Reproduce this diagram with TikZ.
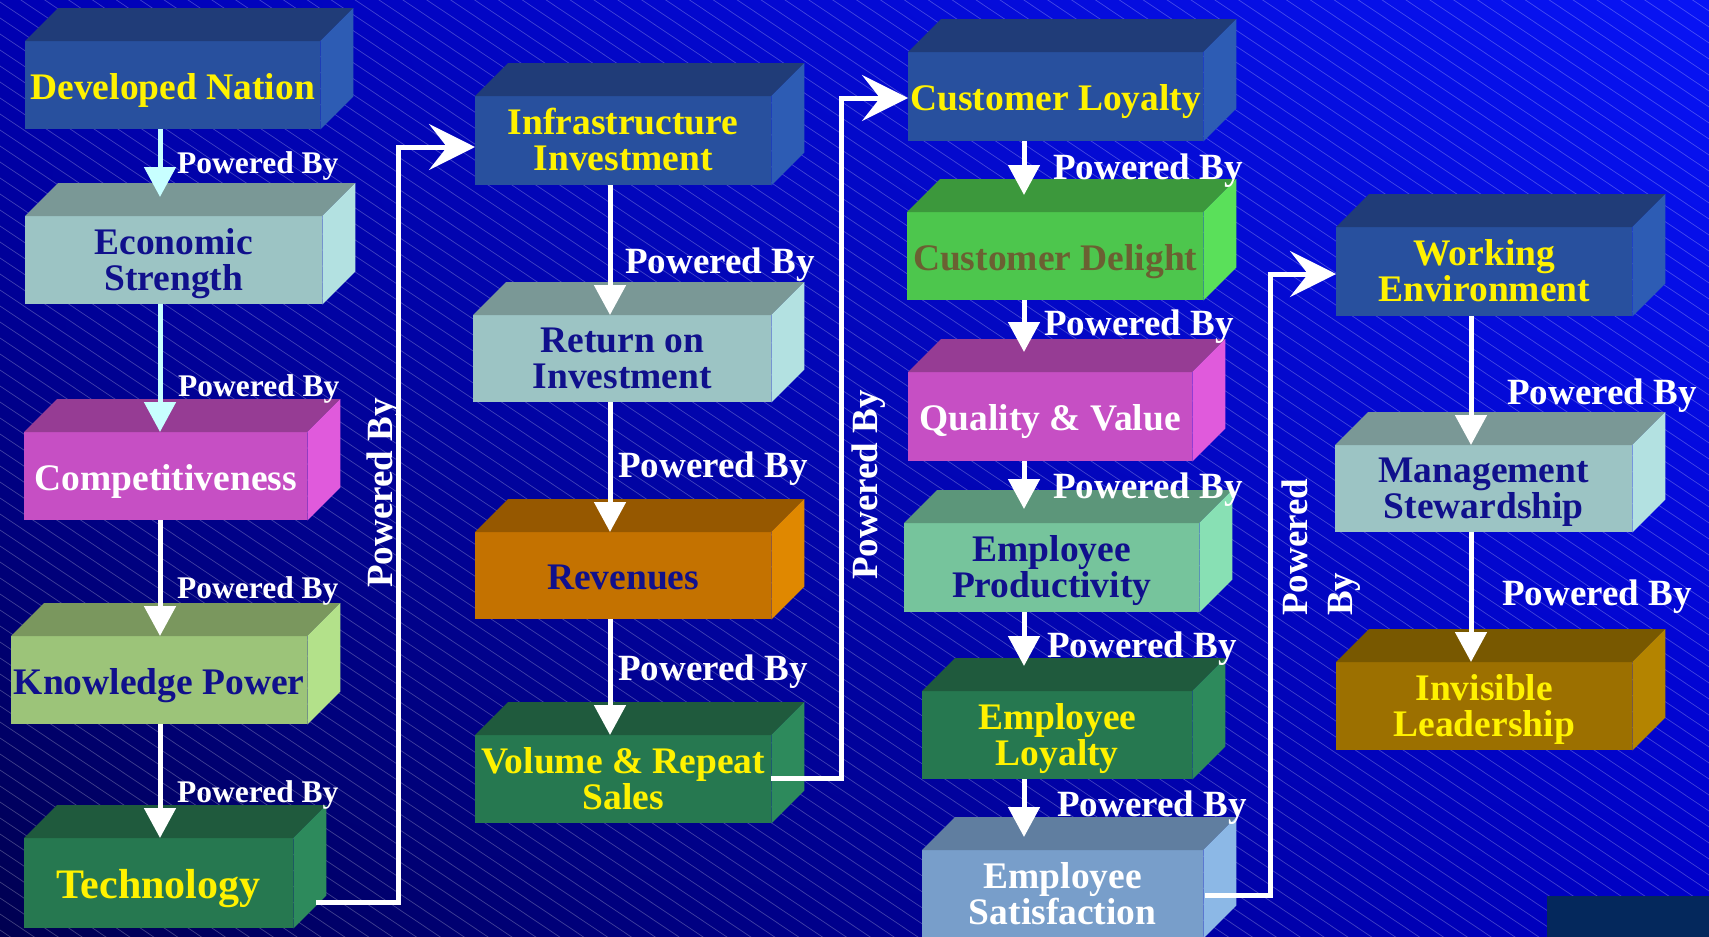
\documentclass[tikz,border=0pt]{standalone}
\usepackage{fontspec}
\setmainfont{Liberation Serif}
\usepackage{tikz}
\usetikzlibrary{arrows.meta}
\usetikzlibrary{shadings}
\tikzset{>=latex}

\definecolor{blueF}{RGB}{40,80,158}
\definecolor{blueT}{RGB}{32,60,120}
\definecolor{blueS}{RGB}{45,92,180}
\definecolor{aquaF}{RGB}{156,196,196}
\definecolor{aquaT}{RGB}{122,152,150}
\definecolor{aquaS}{RGB}{179,225,225}
\definecolor{pinkF}{RGB}{198,79,196}
\definecolor{pinkT}{RGB}{150,60,148}
\definecolor{pinkS}{RGB}{224,90,220}
\definecolor{limeF}{RGB}{156,196,121}
\definecolor{limeT}{RGB}{122,151,94}
\definecolor{limeS}{RGB}{179,225,138}
\definecolor{pineF}{RGB}{38,120,80}
\definecolor{pineT}{RGB}{31,90,61}
\definecolor{pineS}{RGB}{45,138,92}
\definecolor{rustF}{RGB}{196,114,0}
\definecolor{rustT}{RGB}{150,88,0}
\definecolor{rustS}{RGB}{224,136,0}
\definecolor{leafF}{RGB}{77,198,77}
\definecolor{leafT}{RGB}{60,152,60}
\definecolor{leafS}{RGB}{90,224,90}
\definecolor{mintF}{RGB}{118,196,156}
\definecolor{mintT}{RGB}{92,150,122}
\definecolor{mintS}{RGB}{136,224,180}
\definecolor{steelF}{RGB}{120,158,202}
\definecolor{steelT}{RGB}{96,126,160}
\definecolor{steelS}{RGB}{140,184,230}
\definecolor{goldF}{RGB}{156,112,0}
\definecolor{goldT}{RGB}{120,88,0}
\definecolor{goldS}{RGB}{180,132,0}
\definecolor{inkNavy}{RGB}{16,16,140}
\definecolor{inkOlive}{RGB}{107,96,50}
\definecolor{paleCyan}{RGB}{200,255,255}
\definecolor{footer}{RGB}{4,40,92}
\definecolor{bgUL}{RGB}{0,0,180}
\definecolor{bgUR}{RGB}{8,20,245}
\definecolor{bgLL}{RGB}{0,0,80}
\definecolor{bgLR}{RGB}{0,0,200}

% top and side faces of a block
\newcommand{\blockfaces}[2]{%
  \fill[#2T] (#1.north west) -- ++(33pt,33pt) -- ([shift={(33pt,33pt)}]#1.north east) -- (#1.north east) -- cycle;
  \fill[#2S] (#1.north east) -- ++(33pt,33pt) -- ([shift={(33pt,33pt)}]#1.south east) -- (#1.south east) -- cycle;
}

\begin{document}
\begin{tikzpicture}[x=1pt, y=-1pt]
\tikzset{block/.style={anchor=north west, inner sep=0pt, minimum width=296pt, minimum height=88pt, align=center, text height=32pt, text depth=4pt, font=\fontsize{37.5}{36}\selectfont\bfseries}}
\tikzset{twoline/.style={text height=64pt, text depth=4pt}}
\tikzset{flow/.style={white, line width=5pt, -{Triangle[length=30pt,width=31pt]}}}
\tikzset{link/.style={white, line width=5pt, -{Stealth[length=46pt,width=46pt,inset=18pt]}}}
\tikzset{pb/.style={white, inner sep=0pt, anchor=base west, font=\fontsize{37}{45}\selectfont\bfseries}}
\tikzset{pbsmall/.style={pb, font=\fontsize{31.5}{34}\selectfont\bfseries}}

    \clip (0,0) rectangle (1709,937);
    \shade[upper left=bgUL, upper right=bgUR, lower left=bgLL, lower right=bgLR] (0,0) rectangle (1709,937);
    \foreach \k in {-1150,-1134,...,940}
        \draw[white, opacity=0.25, line width=0.7pt] (0,\k) -- (1709,\k+1145);
    \fill[footer] (1547,896) rectangle (1709,937);

    % first column
    \node[block, fill=blueF, text=yellow, minimum width=295pt] (dev) at (25,41) {Developed Nation};
    \node[block, twoline, fill=aquaF, text=inkNavy, minimum width=297pt] (econ) at (25,216) {Economic\\Strength};
    \node[block, fill=pinkF, text=white, minimum width=283pt] (comp) at (24,432) {Competitiveness};
    \node[block, fill=limeF, text=inkNavy] (know) at (11,636) {Knowledge Power};
    \node[block, fill=pineF, text=yellow, minimum width=269pt, minimum height=90pt, text height=34pt, font=\fontsize{42}{44}\selectfont\bfseries] (tech) at (24,838) {Technology};
    \blockfaces{dev}{blue}
    \blockfaces{econ}{aqua}
    \blockfaces{comp}{pink}
    \blockfaces{know}{lime}
    \blockfaces{tech}{pine}

    % second column
    \node[block, twoline, fill=blueF, text=yellow, minimum height=89pt] (infra) at (475,96) {Infrastructure\\Investment};
    \node[block, twoline, fill=aquaF, text=inkNavy, minimum width=298pt, minimum height=87pt] (roi) at (473,315) {Return on\\Investment};
    \node[block, fill=rustF, text=inkNavy, minimum height=87pt] (rev) at (475,532) {Revenues};
    \node[block, twoline, fill=pineF, text=yellow] (vol) at (475,735) {Volume \& Repeat\\Sales};
    \blockfaces{infra}{blue}
    \blockfaces{roi}{aqua}
    \blockfaces{rev}{rust}
    \blockfaces{vol}{pine}

    % third column
    \node[block, fill=blueF, text=yellow, minimum width=295pt, minimum height=89pt] (cloy) at (908,52) {Customer Loyalty};
    \node[block, fill=leafF, text=inkOlive] (cdel) at (907,212) {Customer Delight};
    \node[block, fill=pinkF, text=white, minimum width=284pt, minimum height=89pt] (qual) at (908,372) {Quality \& Value};
    \node[block, twoline, fill=mintF, text=inkNavy, minimum width=295pt, minimum height=89pt] (prod) at (904,523) {Employee\\Productivity};
    \node[block, twoline, fill=pineF, text=yellow, minimum width=270pt] (eloy) at (922,691) {Employee\\Loyalty};
    \node[block, twoline, fill=steelF, text=white, minimum width=281pt] (esat) at (922,850) {Employee\\Satisfaction};
    \blockfaces{cloy}{blue}
    \blockfaces{cdel}{leaf}
    \blockfaces{qual}{pink}
    \blockfaces{prod}{mint}
    \blockfaces{eloy}{pine}
    \blockfaces{esat}{steel}

    % fourth column
    \node[block, twoline, fill=blueF, text=yellow, minimum height=89pt] (work) at (1336,227) {Working\\Environment};
    \node[block, twoline, fill=aquaF, text=inkNavy, minimum width=297pt, minimum height=87pt] (mgmt) at (1335,445) {Management\\Stewardship};
    \node[block, twoline, fill=goldF, text=yellow] (invis) at (1336,662) {Invisible\\Leadership};
    \blockfaces{work}{blue}
    \blockfaces{mgmt}{aqua}
    \blockfaces{invis}{gold}

    \coordinate (c1) at (160,0);
    \coordinate (c2) at (610,0);
    \coordinate (c3) at (1024,0);
    \coordinate (c4) at (1471,0);

    \draw[flow, paleCyan, shorten >=19pt] (dev.south -| c1) -- (econ.north -| c1);
    \draw[flow, paleCyan] (econ.south -| c1) -- (comp.north -| c1);
    \draw[flow] (comp.south -| c1) -- (know.north -| c1);
    \draw[flow] (know.south -| c1) -- (tech.north -| c1);

    \draw[flow] (infra.south -| c2) -- (roi.north -| c2);
    \draw[flow] (roi.south -| c2) -- (rev.north -| c2);
    \draw[flow] (rev.south -| c2) -- (vol.north -| c2);

    \draw[flow, shorten >=17pt] (cloy.south -| c3) -- (cdel.north -| c3);
    \draw[flow, shorten >=20pt] (cdel.south -| c3) -- (qual.north -| c3);
    \draw[flow, shorten >=14pt] (qual.south -| c3) -- (prod.north -| c3);
    \draw[flow, shorten >=25pt] (prod.south -| c3) -- (eloy.north -| c3);
    \draw[flow, shorten >=13pt] (eloy.south -| c3) -- (esat.north -| c3);

    \draw[flow] (work.south -| c4) -- (mgmt.north -| c4);
    \draw[flow] (mgmt.south -| c4) -- (invis.north -| c4);

    \coordinate (techout) at (316,902);
    \coordinate (bendA) at (398,147);
    \coordinate (volout) at (771,778);
    \coordinate (bendB) at (841,98);
    \coordinate (esatout) at (1205,895);
    \coordinate (bendC) at (1270,274);
    \draw[link] (techout) -| (bendA) -- (infra.west |- bendA);
    \draw[link] (volout) -| (bendB) -- (cloy.west |- bendB);
    \draw[link] (esatout) -| (bendC) -- (work.west |- bendC);

    % labels
    \node[pbsmall] (pb1) at (177,173) {Powered By};
    \node[pbsmall] (pb2) at (178,396) {Powered By};
    \node[pbsmall] (pb3) at (177,598) {Powered By};
    \node[pbsmall] (pb4) at (177,802) {Powered By};
    \node[pb] (pb5) at (625,273) {Powered By};
    \node[pb] (pb6) at (618,477) {Powered By};
    \node[pb] (pb7) at (618,680) {Powered By};
    \node[pb] (pb8) at (1053,179) {Powered By};
    \node[pb] (pb9) at (1044,335) {Powered By};
    \node[pb] (pb10) at (1053,498) {Powered By};
    \node[pb] (pb11) at (1047,657) {Powered By};
    \node[pb] (pb12) at (1057,816) {Powered By};
    \node[pb] (pb13) at (1507,404) {Powered By};
    \node[pb] (pb14) at (1502,605) {Powered By};
    \node[pb, rotate=90] (pbA) at (392,588) {Powered By};
    \node[pb, rotate=90] (pbB) at (877,580) {Powered By};
    \node[pb, rotate=90, align=left] (pbC) at (1352,616) {Powered\\By};
\end{tikzpicture}
\end{document}
